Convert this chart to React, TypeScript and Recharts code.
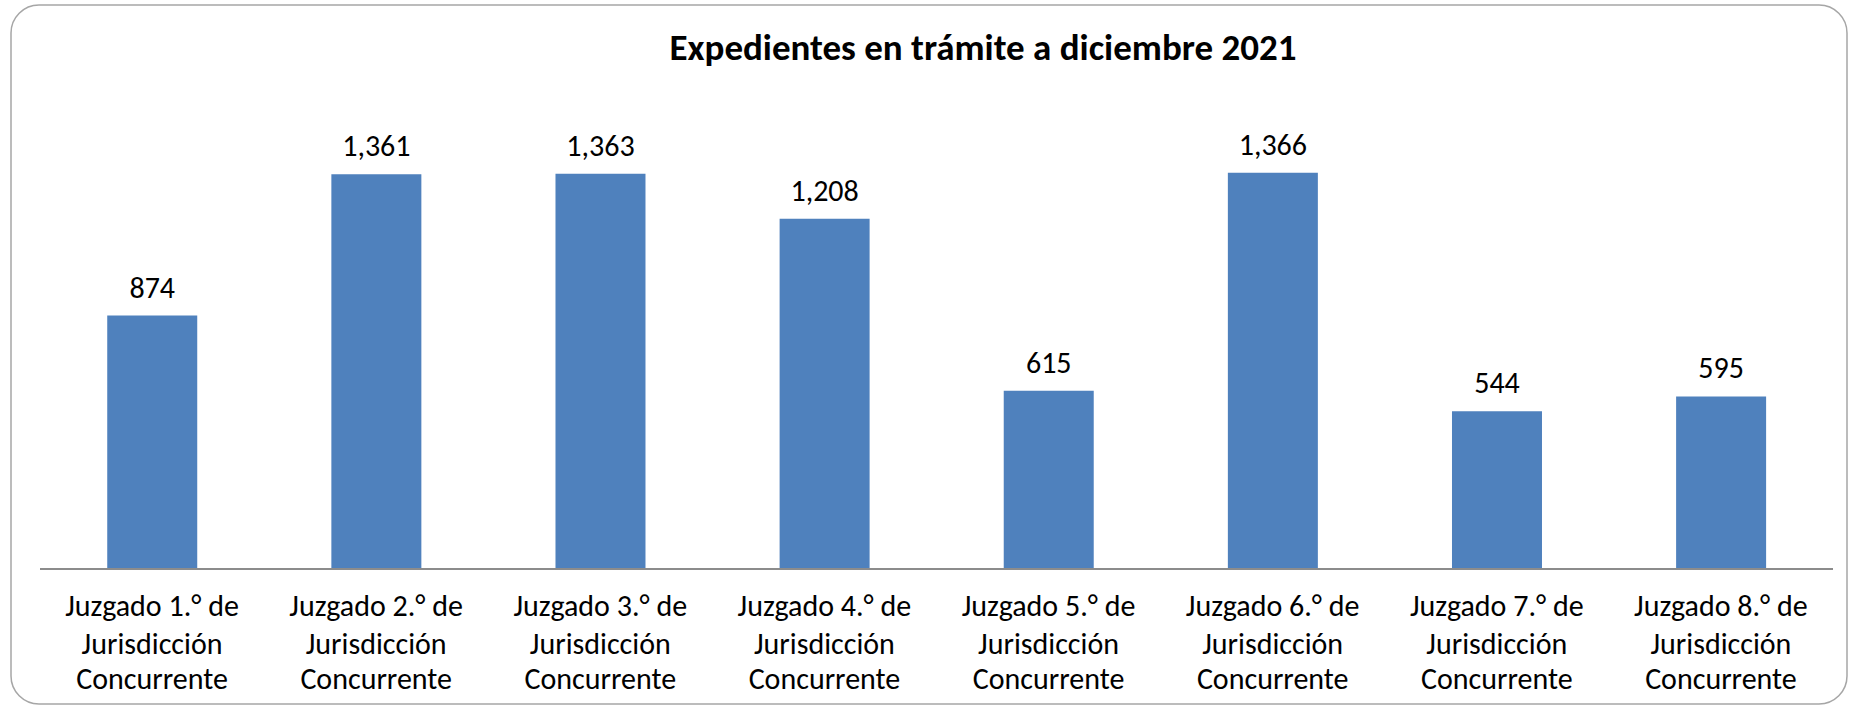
import React from "react";
import { BarChart, Bar, XAxis, YAxis, LabelList } from "recharts";

const categories = [
  "Juzgado 1.° de",
  "Juzgado 2.° de",
  "Juzgado 3.° de",
  "Juzgado 4.° de",
  "Juzgado 5.° de",
  "Juzgado 6.° de",
  "Juzgado 7.° de",
  "Juzgado 8.° de",
];
const labelLine2 = "Jurisdicción";
const labelLine3 = "Concurrente";
const values = [874, 1361, 1363, 1208, 615, 1366, 544, 595];
const title = "Expedientes en trámite a diciembre 2021";

const data = categories.map((c, i) => ({ name: c, value: values[i] }));

const FONT = "Calibri, Carlito, Lato, sans-serif";

const Tick = (props: any) => {
  const { x, y, payload } = props;
  return (
    <g>
      <text x={x} y={y + 47} textAnchor="middle" fontFamily={FONT} fontSize={30} fill="#000">
        {payload.value}
      </text>
      <text x={x} y={y + 85} textAnchor="middle" fontFamily={FONT} fontSize={30} fill="#000">
        {labelLine2}
      </text>
      <text x={x} y={y + 120} textAnchor="middle" fontFamily={FONT} fontSize={30} fill="#000">
        {labelLine3}
      </text>
    </g>
  );
};

export default function App() {
  return (
    <div style={{ position: "absolute", left: 0, top: 0, width: 1850, height: 708, background: "#fff" }}>
      <svg width={1850} height={708} style={{ position: "absolute", left: 0, top: 0 }}>
        <rect x={11} y={5} width={1836} height={699} rx={28} ry={28} fill="#fff" stroke="#a6a6a6" strokeWidth={1.5} />
        <text x={983} y={60} textAnchor="middle" fontFamily={FONT} fontWeight="bold" fontSize={37} fill="#000">
          {title}
        </text>
      </svg>
      <div style={{ position: "absolute", left: 0, top: 0 }}>
        <BarChart
          width={1850}
          height={708}
          data={data}
          margin={{ top: 105, right: 17, bottom: 9, left: 40 }}
          barCategoryGap="30%"
        >
          <XAxis
            dataKey="name"
            height={130}
            tickLine={false}
            tickSize={0}
            tickMargin={0}
            axisLine={{ stroke: "#8c8c8c", strokeWidth: 2 }}
            tick={<Tick />}
            interval={0}
          />
          <YAxis hide domain={[0, 1600]} />
          <Bar dataKey="value" fill="#4f81bd" isAnimationActive={false}>
            <LabelList
              dataKey="value"
              position="top"
              offset={18}
              formatter={(v: any) => Number(v).toLocaleString("en-US")}
              style={{ fontFamily: FONT, fontSize: 30, fill: "#000" }}
            />
          </Bar>
        </BarChart>
      </div>
    </div>
  );
}
